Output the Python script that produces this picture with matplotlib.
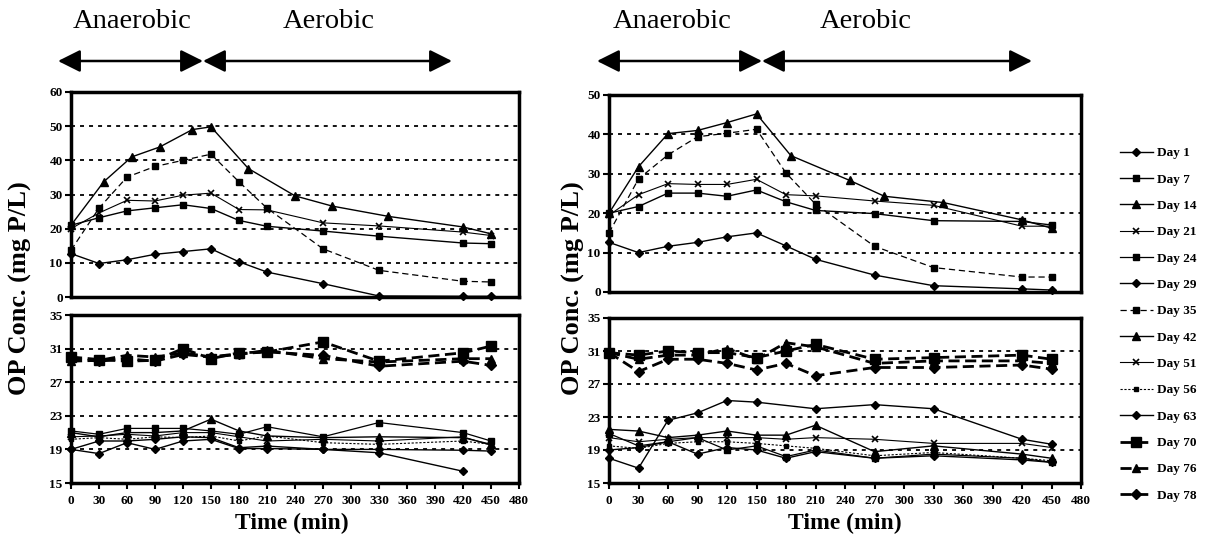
import matplotlib
matplotlib.use('Agg')
import matplotlib.pyplot as plt
from matplotlib.lines import Line2D

plt.rcParams['font.family'] = ['Liberation Serif', 'DejaVu Serif']

# ---------------- data ----------------
legend_days = ["Day 1", "Day 7", "Day 14", "Day 21", "Day 24", "Day 29", "Day 35",
               "Day 42", "Day 51", "Day 56", "Day 63", "Day 70", "Day 76", "Day 78"]

t_std = [0, 30, 60, 90, 120, 150, 180, 210, 270, 330, 420, 450]
t_std_to420 = [0, 30, 60, 90, 120, 150, 180, 210, 270, 330, 420]
t_no180 = [0, 30, 60, 90, 120, 150, 210, 270, 330, 420, 450]
t_left_d14 = [0, 35, 65, 95, 130, 150, 190, 240, 280, 340, 420, 450]
t_right_d14 = [0, 30, 60, 90, 120, 150, 185, 245, 280, 340, 420, 450]

# top-left panel (reactor 1, high OP)
tl_day1 = [12.7, 9.8, 10.9, 12.5, 13.3, 14.1, 10.3, 7.3, 3.9, 0.3, 0.2, 0.2]
tl_day7 = [21.0, 23.2, 25.2, 26.1, 27.0, 25.9, 22.4, 20.7, 19.3, 17.8, 15.8, 15.6]
tl_day14 = [21.0, 33.7, 41.0, 43.9, 49.0, 49.8, 37.6, 29.6, 26.6, 23.6, 20.5, 18.5]
tl_day21 = [20.0, 24.6, 28.3, 28.1, 29.8, 30.4, 25.6, 25.5, 21.7, 20.8, 19.0, 18.0]
tl_day35 = [13.7, 26.0, 35.1, 38.2, 40.0, 41.8, 33.7, 26.0, 14.1, 7.8, 4.6, 4.4]

# bottom-left panel
bl_day24 = [21.2, 20.8, 21.5, 21.5, 21.5, 21.2, 20.8, 21.7, 20.5, 22.2, 21.0, 20.0]
bl_day29 = [19.0, 18.5, 19.8, 19.0, 20.0, 20.2, 19.1, 19.1, 19.0, 18.6, 16.4]
bl_day42 = [21.0, 20.5, 21.0, 21.0, 21.2, 22.6, 21.2, 20.6, 20.4, 20.5, 20.4, 19.6]
bl_day51 = [20.5, 20.6, 20.8, 20.6, 21.0, 21.0, 20.5, 20.0, 20.2, 20.0, 20.5, 19.5]
bl_day56 = [20.2, 20.4, 20.2, 20.5, 20.4, 20.6, 20.0, 20.6, 19.8, 19.6, 20.0, 19.6]
bl_day63 = [19.0, 20.0, 20.0, 20.2, 20.5, 20.4, 19.2, 19.4, 19.0, 19.0, 18.9, 18.8]
bl_day70 = [30.0, 29.7, 29.5, 29.6, 31.0, 29.8, 30.5, 30.6, 31.8, 29.5, 30.5, 31.3]
bl_day76 = [29.5, 29.6, 30.2, 30.0, 30.5, 30.0, 30.3, 30.8, 29.8, 29.4, 29.8, 29.8]
bl_day78 = [29.8, 29.5, 29.8, 29.5, 30.3, 30.0, 30.4, 30.6, 30.2, 28.9, 29.5, 29.0]

# top-right panel (reactor 2)
tr_day1 = [12.6, 10.0, 11.6, 12.6, 14.0, 15.0, 11.7, 8.3, 4.3, 1.6, 0.8, 0.5]
tr_day7 = [20.0, 21.7, 25.1, 25.1, 24.3, 25.9, 22.9, 20.7, 19.9, 18.1, 17.9, 17.0]
tr_day14 = [20.0, 31.8, 40.2, 41.0, 43.0, 45.2, 34.6, 28.3, 24.3, 22.7, 18.3, 16.2]
tr_day21 = [19.5, 24.7, 27.5, 27.3, 27.3, 28.6, 24.7, 24.4, 23.1, 22.0, 16.7, 16.7]
tr_day35 = [15.0, 28.7, 34.8, 39.4, 40.3, 41.3, 30.2, 22.3, 11.6, 6.2, 3.8, 3.8]

# bottom-right panel
br_day24 = [21.0, 19.5, 20.0, 20.5, 19.0, 19.5, 18.2, 19.0, 18.0, 18.5, 18.0, 17.5]
br_day29 = [19.0, 19.3, 20.0, 18.5, 19.3, 19.0, 18.0, 18.8, 18.0, 18.3, 17.8, 17.5]
br_day42 = [21.5, 21.3, 20.5, 20.8, 21.3, 20.8, 20.8, 22.0, 18.8, 19.5, 18.5, 18.0]
br_day51 = [20.5, 20.0, 20.3, 20.5, 20.5, 20.5, 20.3, 20.5, 20.3, 19.8, 19.8, 19.3]
br_day56 = [19.5, 19.2, 19.8, 20.0, 20.0, 19.8, 19.5, 19.2, 18.3, 18.7, 18.0, 17.7]
br_day63 = [18.0, 16.8, 22.6, 23.5, 25.0, 24.8, 24.0, 24.5, 24.0, 20.3, 19.7]
br_day70 = [30.8, 30.5, 31.0, 30.8, 30.8, 30.2, 31.0, 31.8, 30.0, 30.2, 30.5, 30.0]
br_day76 = [30.8, 30.0, 30.5, 30.5, 31.3, 30.0, 32.0, 31.5, 29.5, 29.8, 29.8, 29.5]
br_day78 = [30.8, 28.5, 30.0, 30.0, 29.5, 28.7, 29.5, 28.0, 29.0, 29.0, 29.3, 28.8]

# ---------------- styles ----------------
STYLE = {
    "Day 1":  dict(ls='-', marker='D', ms=4.5, lw=1.0),
    "Day 7":  dict(ls='-', marker='s', ms=5, lw=1.0),
    "Day 14": dict(ls='-', marker='^', ms=5.5, lw=1.0),
    "Day 21": dict(ls='-', marker='x', ms=5, lw=0.8, mew=1.2),
    "Day 24": dict(ls='-', marker='s', ms=5, lw=0.9),
    "Day 29": dict(ls='-', marker='D', ms=4.5, lw=1.0),
    "Day 35": dict(ls=(0, (5, 3)), marker='s', ms=5, lw=0.9),
    "Day 42": dict(ls='-', marker='^', ms=5.5, lw=1.0),
    "Day 51": dict(ls='-', marker='x', ms=5, lw=0.8, mew=1.2),
    "Day 56": dict(ls=(0, (2, 1.5)), marker='s', ms=3.5, lw=0.8),
    "Day 63": dict(ls='-', marker='D', ms=4.5, lw=1.0),
    "Day 70": dict(ls=(0, (4, 2)), marker='s', ms=7.5, lw=2.0),
    "Day 76": dict(ls=(0, (4, 2)), marker='^', ms=6, lw=2.0),
    "Day 78": dict(ls=(0, (4, 2)), marker='D', ms=5, lw=2.0),
}

W, H = 1230, 544
fig = plt.figure(figsize=(W / 100, H / 100), dpi=100)


def frac(x0, y0, x1, y1):
    return [x0 / W, 1 - y1 / H, (x1 - x0) / W, (y1 - y0) / H]


ax_tl = fig.add_axes(frac(71, 92, 519, 297))
ax_bl = fig.add_axes(frac(71, 315, 519, 483))
ax_tr = fig.add_axes(frac(609, 95, 1081, 292))
ax_br = fig.add_axes(frac(609, 318, 1081, 483))

panels = [
    (ax_tl, [("Day 1", t_std, tl_day1), ("Day 7", t_std, tl_day7),
             ("Day 14", t_left_d14, tl_day14), ("Day 21", t_std, tl_day21),
             ("Day 35", t_std, tl_day35)]),
    (ax_bl, [("Day 24", t_std, bl_day24), ("Day 29", t_std_to420, bl_day29),
             ("Day 42", t_std, bl_day42), ("Day 51", t_std, bl_day51),
             ("Day 56", t_std, bl_day56), ("Day 63", t_std, bl_day63),
             ("Day 70", t_std, bl_day70), ("Day 76", t_std, bl_day76),
             ("Day 78", t_std, bl_day78)]),
    (ax_tr, [("Day 1", t_std, tr_day1), ("Day 7", t_std, tr_day7),
             ("Day 14", t_right_d14, tr_day14), ("Day 21", t_std, tr_day21),
             ("Day 35", t_std, tr_day35)]),
    (ax_br, [("Day 24", t_std, br_day24), ("Day 29", t_std, br_day29),
             ("Day 42", t_std, br_day42), ("Day 51", t_std, br_day51),
             ("Day 56", t_std, br_day56), ("Day 63", t_no180, br_day63),
             ("Day 70", t_std, br_day70), ("Day 76", t_std, br_day76),
             ("Day 78", t_std, br_day78)]),
]

for ax, series in panels:
    for name, t, v in series:
        st = STYLE[name]
        ax.plot(t, v, color='black', linestyle=st['ls'], lw=st['lw'],
                marker=st['marker'], ms=st['ms'], mew=st.get('mew', 1.0),
                mfc='black', mec='black', clip_on=False, zorder=3)

tick_font = dict(fontsize=9.5, fontweight='bold')


def style_axes(ax, ylim, yticks, grid, bottom):
    ax.set_xlim(0, 480)
    ax.set_ylim(*ylim)
    ax.set_yticks(yticks)
    ax.set_yticklabels([str(v) for v in yticks], **tick_font)
    for g in grid:
        ax.axhline(g, color='black', lw=1.3, linestyle=(0, (2.2, 2.8)), zorder=1)
    for s in ax.spines.values():
        s.set_linewidth(2.5)
    ax.tick_params(axis='y', direction='out', length=4, width=1.5, pad=2)
    if bottom:
        xt = list(range(0, 481, 30))
        ax.set_xticks(xt)
        ax.set_xticklabels([str(v) for v in xt], **tick_font)
        ax.tick_params(axis='x', direction='out', length=4, width=1.5, pad=5)
    else:
        ax.set_xticks([])


style_axes(ax_tl, (0, 60), list(range(0, 61, 10)), [10, 20, 30, 40, 50], False)
style_axes(ax_tr, (0, 50), list(range(0, 51, 10)), [10, 20, 30, 40], False)
style_axes(ax_bl, (15, 35), [15, 19, 23, 27, 31, 35], [19, 23, 27, 31], True)
style_axes(ax_br, (15, 35), [15, 19, 23, 27, 31, 35], [19, 23, 27, 31], True)

# axis titles
for xc in (20, 573):
    fig.text(xc / W, 1 - 288 / H, 'OP Conc. (mg P/L)', rotation=90,
             ha='center', va='center', fontsize=19, fontweight='bold')
for xc in (292, 845):
    fig.text(xc / W, 1 - 523 / H, 'Time (min)', ha='center', va='center',
             fontsize=17, fontweight='bold')

# phase annotations
def phase(x_left, x_mid, x_right, xa, xb):
    y = 1 - 61 / H
    for x0, x1 in ((x_left, x_mid), (x_mid, x_right)):
        fig.add_artist(matplotlib.patches.FancyArrowPatch(
            (x0 / W, y), (x1 / W, y), transform=fig.transFigure,
            arrowstyle='<|-|>', mutation_scale=34, lw=1.8, color='black',
            shrinkA=0, shrinkB=0))
    fig.text(xa / W, 1 - 22 / H, 'Anaerobic', ha='center', va='center', fontsize=20.5)
    fig.text(xb / W, 1 - 22 / H, 'Aerobic', ha='center', va='center', fontsize=20.5)


phase(58, 203, 452, 132, 329)
phase(597, 762, 1032, 672, 866)

# legend
handles = []
for name in legend_days:
    st = STYLE[name]
    handles.append(Line2D([], [], color='black', linestyle=st['ls'], lw=st['lw'],
                          marker=st['marker'], ms=st['ms'], mew=st.get('mew', 1.0),
                          mfc='black', mec='black'))
fig.legend(handles, legend_days, loc='upper left',
           bbox_to_anchor=(1120 / W, 1 - 147 / H), frameon=False,
           prop=dict(family='Liberation Serif', weight='bold', size=9.5),
           labelspacing=1.07, handlelength=2.5, handletextpad=0.3,
           borderaxespad=0, borderpad=0)

fig.savefig('out.png', dpi=100)
